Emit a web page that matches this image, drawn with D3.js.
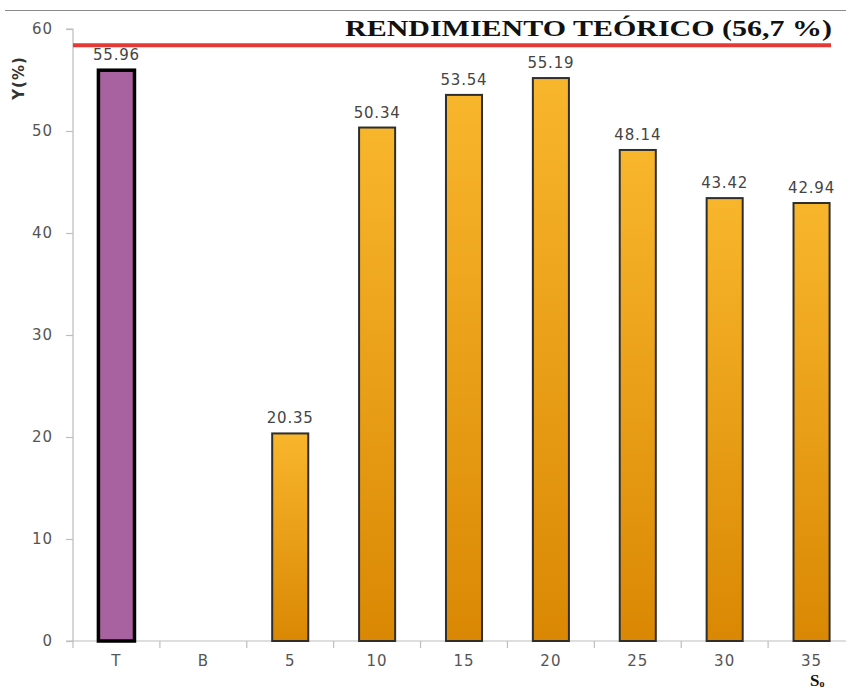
<!DOCTYPE html>
<html>
<head>
<meta charset="utf-8">
<script src="https://cdn.jsdelivr.net/npm/d3@7"></script>
<style>
  html, body { margin: 0; padding: 0; background: #fff; }
  svg { display: block; }
</style>
</head>
<body>
<svg id="chart" width="846" height="691"></svg>
<script>
// Yield per substrate load
const categories = ["T", "B", "5", "10", "15", "20", "25", "30", "35"];
const yields = [55.96, null, 20.35, 50.34, 53.54, 55.19, 48.14, 43.42, 42.94];
const yTicks = [0, 10, 20, 30, 40, 50, 60];
const referenceLabel = "RENDIMIENTO TEÓRICO (56,7 %)";
const referenceLineLevel = 58.4;

(function () {
const svg = d3.select("#chart");
const W = 846, H = 691;
const plotLeft = 73, plotRight = 855, plotTop = 29, plotBottom = 641;
const sans = "DejaVu Sans, Verdana, sans-serif";
const serif = "Liberation Serif, Times New Roman, serif";

const x = d3.scaleBand().domain(categories).range([plotLeft, plotRight]).paddingInner(0.585).paddingOuter(0.2925);
const y = d3.scaleLinear().domain([0, 60]).range([plotBottom, plotTop]);

const defs = svg.append("defs");
const grad = defs.append("linearGradient").attr("id", "orangeGrad")
  .attr("x1", 0).attr("y1", 0).attr("x2", 0).attr("y2", 1);
grad.append("stop").attr("offset", "0%").attr("stop-color", "#F8B62C");
grad.append("stop").attr("offset", "100%").attr("stop-color", "#DA8803");

// thin rule across the top
svg.append("line").attr("x1", 5).attr("x2", W).attr("y1", 10.5).attr("y2", 10.5)
  .attr("stroke", "#8a8a8a").attr("stroke-width", 1.2);

// y axis
const yAxis = svg.append("g").attr("transform", `translate(${plotLeft},0)`)
  .call(d3.axisLeft(y).tickValues(yTicks).tickSize(7).tickPadding(13).tickFormat(d3.format("d")));
yAxis.select(".domain").attr("stroke", "#bdbdbd").attr("stroke-width", 1.2)
  .attr("d", `M-7,${y(60)}H0V${plotBottom}`);
yAxis.selectAll(".tick line").attr("stroke", "#bdbdbd").attr("stroke-width", 1.2);
yAxis.selectAll(".tick text").attr("fill", "#555").style("font-family", sans)
  .style("font-size", "15px").style("letter-spacing", "1px");

// x axis
const xAxis = svg.append("g").attr("transform", `translate(0,${plotBottom})`)
  .call(d3.axisBottom(x).tickSize(0).tickPadding(14));
xAxis.select(".domain").attr("stroke", "#bdbdbd").attr("stroke-width", 1.2).attr("d", `M${plotLeft - 7},0H${plotRight}`);
xAxis.selectAll(".tick text").attr("fill", "#555").style("font-family", sans)
  .style("font-size", "15px").style("letter-spacing", "1px");
// boundary ticks between categories
const step = x.step();
const bounds = d3.range(categories.length + 1).map(i => x(categories[0]) - x.paddingOuter() * step + i * step);
svg.append("g").selectAll("line").data(bounds).join("line")
  .attr("x1", d => d).attr("x2", d => d).attr("y1", plotBottom).attr("y2", plotBottom + 7)
  .attr("stroke", "#bdbdbd").attr("stroke-width", 1.2);

// bars
const data = categories.map((c, i) => ({ c, v: yields[i] })).filter(d => d.v != null);
svg.append("g").selectAll("rect").data(data).join("rect")
  .attr("x", d => x(d.c))
  .attr("width", x.bandwidth())
  .attr("y", d => y(d.v))
  .attr("height", d => y(0) - y(d.v))
  .attr("fill", d => d.c === "T" ? "#A8629F" : "url(#orangeGrad)")
  .attr("stroke", d => d.c === "T" ? "#000" : "#2e2e2e")
  .attr("stroke-width", d => d.c === "T" ? 3.5 : 2);

// value labels
svg.append("g").selectAll("text").data(data).join("text")
  .attr("x", d => x(d.c) + x.bandwidth() / 2)
  .attr("y", d => y(d.v) - 10)
  .attr("text-anchor", "middle")
  .attr("fill", "#444")
  .style("font-family", sans)
  .style("font-size", "15px")
  .style("letter-spacing", "0.8px")
  .text(d => d3.format(".2f")(d.v));

// theoretical yield reference line
svg.append("line").attr("x1", plotLeft).attr("x2", 831)
  .attr("y1", y(referenceLineLevel)).attr("y2", y(referenceLineLevel))
  .attr("stroke", "#E53935").attr("stroke-width", 4);
svg.append("text").attr("x", 345).attr("y", 36)
  .attr("textLength", 487).attr("lengthAdjust", "spacingAndGlyphs")
  .style("font-family", serif)
  .style("font-weight", "bold").style("font-size", "23px").attr("fill", "#111")
  .text(referenceLabel);

// axis titles
svg.append("text").attr("transform", "translate(24,78) rotate(-90)")
  .attr("text-anchor", "middle")
  .style("font-family", sans).style("font-size", "15px").style("font-weight", "bold")
  .style("letter-spacing", "1px")
  .attr("fill", "#333").text("Y(%)");
const sx = svg.append("text").attr("x", 810).attr("y", 686)
  .style("font-family", serif)
  .style("font-weight", "bold").style("font-size", "17px").attr("fill", "#111");
sx.append("tspan").text("S");
sx.append("tspan").attr("dy", 1).style("font-size", "10px").text("o");
})();
</script>
</body>
</html>
